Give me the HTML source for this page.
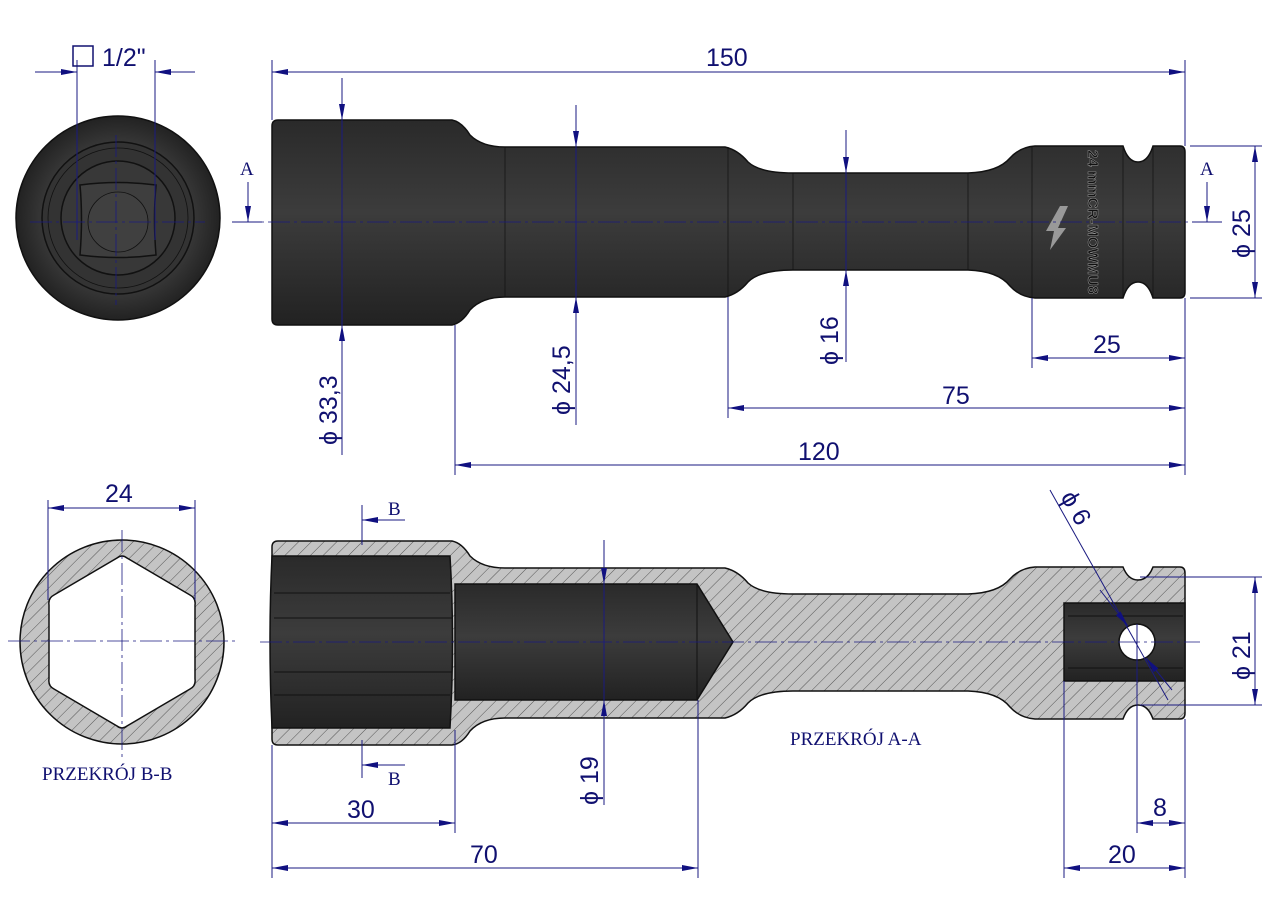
<!DOCTYPE html>
<html><head><meta charset="utf-8"><style>
html,body{margin:0;padding:0;background:#fff;}
svg{display:block;}
.d{stroke:#1a1a80;stroke-width:1;fill:none;}
.t{font-family:"Liberation Sans",sans-serif;font-size:25px;fill:#101070;}
.s{font-family:"Liberation Serif",serif;font-size:19px;fill:#101070;}
.c{stroke:#1a1a80;stroke-width:0.8;stroke-dasharray:22 4 3 4;fill:none;}
</style></head><body>
<svg width="1280" height="905" viewBox="0 0 1280 905" xmlns="http://www.w3.org/2000/svg">
<defs>
<pattern id="h" patternUnits="userSpaceOnUse" width="9" height="9" patternTransform="rotate(45)">
<rect width="9" height="9" fill="#c4c4c4"/><line x1="0" y1="0" x2="0" y2="9" stroke="#555" stroke-width="1"/>
</pattern>
<linearGradient id="g" x1="0" y1="0" x2="0" y2="1">
<stop offset="0" stop-color="#2a2a2a"/><stop offset="0.45" stop-color="#3c3c3c"/><stop offset="1" stop-color="#222"/>
</linearGradient>
<radialGradient id="rg"><stop offset="0.7" stop-color="#3a3a3a"/><stop offset="1" stop-color="#222"/></radialGradient>
<marker id="a" markerWidth="16" markerHeight="8" refX="16" refY="4" orient="auto" markerUnits="userSpaceOnUse"><path d="M0,1 L16,4 L0,7 z" fill="#101080"/></marker>
</defs>

<!-- End view top-left -->
<circle cx="118" cy="218" r="102" fill="url(#rg)" stroke="#111" stroke-width="1.5"/>
<circle cx="118" cy="218" r="76" fill="#333" stroke="#111" stroke-width="1.5"/>
<circle cx="118" cy="218" r="70" fill="none" stroke="#111" stroke-width="0.8"/>
<circle cx="118" cy="218" r="57" fill="#383838" stroke="#111" stroke-width="1.5"/>
<path d="M80,185 Q118,180 156,185 Q153,218 156,255 Q118,260 80,255 Q83,218 80,185 z" fill="#3e3e3e" stroke="#111" stroke-width="1.5"/>
<circle cx="118" cy="222" r="30" fill="#404040" stroke="#111" stroke-width="0.8"/>
<line class="c" x1="30" y1="222" x2="205" y2="222"/>
<line class="c" x1="116" y1="135" x2="116" y2="305"/>
<line class="d" x1="77" y1="60" x2="77" y2="240"/><line class="d" x1="155" y1="60" x2="155" y2="240"/>
<line class="d" x1="35" y1="72" x2="77" y2="72" marker-end="url(#a)"/><line class="d" x1="195" y1="72" x2="155" y2="72" marker-end="url(#a)"/>
<rect x="73" y="46" width="20" height="20" fill="none" stroke="#101070" stroke-width="1.5"/>
<text class="t" x="102" y="66">1/2"</text>
<text class="s" x="240" y="175">A</text>
<line class="d" x1="232" y1="222" x2="262" y2="222" stroke-width="1.5"/>
<line class="d" x1="248" y1="182" x2="248" y2="222" marker-end="url(#a)"/>

<!-- Side view -->
<path d="M278,120 L452,120 Q462,122 470,135 Q482,147 505,147 L725,147 Q738,150 748,162 Q760,173 793,173 L968,173 Q998,172 1010,158 Q1020,147 1035,146 L1123,146 Q1128,162 1138,162 Q1148,162 1153,146 L1180,146 Q1185,146 1185,152 L1185,292 Q1185,298 1180,298 L1153,298 Q1148,282 1138,282 Q1128,282 1123,298 L1035,298 Q1020,297 1010,286 Q998,271 968,270 L793,270 Q760,270 748,282 Q738,294 725,297 L505,297 Q482,297 470,310 Q462,323 452,325 L278,325 Q272,325 272,319 L272,126 Q272,120 278,120 z" fill="url(#g)" stroke="#111" stroke-width="1.5"/>
<g stroke="#111" stroke-width="0.7" fill="none">
<line x1="505" y1="147" x2="505" y2="297"/><line x1="728" y1="147" x2="728" y2="297"/>
<line x1="793" y1="173" x2="793" y2="270"/><line x1="968" y1="173" x2="968" y2="270"/>
<line x1="1032" y1="146" x2="1032" y2="298"/><line x1="1123" y1="146" x2="1123" y2="298"/><line x1="1153" y1="146" x2="1153" y2="298"/>
</g>
<text x="1088" y="150" transform="rotate(90 1088 150)" font-family="Liberation Sans,sans-serif" font-weight="bold" font-size="15" fill="#111" stroke="#999" stroke-width="0.5">24 mmCR-MOWMU8</text>
<path d="M1050,250 L1066,228 L1058,228 L1068,206 L1060,206 L1046,231 L1054,231 z" fill="#999"/>
<line class="c" x1="235" y1="222" x2="1200" y2="222"/>

<!-- top dims -->
<line class="d" x1="272" y1="60" x2="272" y2="120"/><line class="d" x1="1185" y1="60" x2="1185" y2="146"/>
<line class="d" x1="330" y1="72" x2="272" y2="72" marker-end="url(#a)"/><line class="d" x1="1130" y1="72" x2="1185" y2="72" marker-end="url(#a)"/>
<line class="d" x1="330" y1="72" x2="1130" y2="72"/>
<text class="t" x="706" y="66">150</text>
<text class="s" x="1200" y="175">A</text>
<line class="d" x1="1192" y1="222" x2="1222" y2="222" stroke-width="1.5"/>
<line class="d" x1="1207" y1="182" x2="1207" y2="222" marker-end="url(#a)"/>

<line class="d" x1="342" y1="78" x2="342" y2="120" marker-end="url(#a)"/>
<line class="d" x1="342" y1="120" x2="342" y2="325"/>
<line class="d" x1="342" y1="455" x2="342" y2="325" marker-end="url(#a)"/>
<text class="t" transform="translate(337,445) rotate(-90)">ϕ 33,3</text>

<line class="d" x1="576" y1="105" x2="576" y2="147" marker-end="url(#a)"/>
<line class="d" x1="576" y1="147" x2="576" y2="297"/>
<line class="d" x1="576" y1="425" x2="576" y2="297" marker-end="url(#a)"/>
<text class="t" transform="translate(570,415) rotate(-90)">ϕ 24,5</text>

<line class="d" x1="846" y1="130" x2="846" y2="173" marker-end="url(#a)"/>
<line class="d" x1="846" y1="173" x2="846" y2="270"/>
<line class="d" x1="846" y1="362" x2="846" y2="270" marker-end="url(#a)"/>
<text class="t" transform="translate(838,365) rotate(-90)">ϕ 16</text>

<line class="d" x1="1190" y1="146" x2="1262" y2="146"/><line class="d" x1="1190" y1="298" x2="1262" y2="298"/>
<line class="d" x1="1255" y1="200" x2="1255" y2="146" marker-end="url(#a)"/>
<line class="d" x1="1255" y1="240" x2="1255" y2="298" marker-end="url(#a)"/>
<line class="d" x1="1255" y1="200" x2="1255" y2="240"/>
<text class="t" transform="translate(1250,258) rotate(-90)">ϕ 25</text>

<line class="d" x1="1032" y1="298" x2="1032" y2="368"/><line class="d" x1="1185" y1="298" x2="1185" y2="475"/>
<line class="d" x1="1100" y1="358" x2="1032" y2="358" marker-end="url(#a)"/><line class="d" x1="1100" y1="358" x2="1185" y2="358" marker-end="url(#a)"/>
<text class="t" x="1093" y="353">25</text>
<line class="d" x1="728" y1="297" x2="728" y2="418"/>
<line class="d" x1="950" y1="408" x2="728" y2="408" marker-end="url(#a)"/><line class="d" x1="950" y1="408" x2="1185" y2="408" marker-end="url(#a)"/>
<text class="t" x="942" y="404">75</text>
<line class="d" x1="455" y1="325" x2="455" y2="475"/>
<line class="d" x1="820" y1="465" x2="455" y2="465" marker-end="url(#a)"/><line class="d" x1="820" y1="465" x2="1185" y2="465" marker-end="url(#a)"/>
<text class="t" x="798" y="460">120</text>

<!-- Section B-B -->
<circle cx="122" cy="642" r="102" fill="url(#h)" stroke="#111" stroke-width="1.5"/>
<path d="M117,558 Q122,554 127,558 L190,595 Q196,598 195,605 L195,679 Q196,686 190,689 L127,726 Q122,730 117,726 L54,689 Q48,686 49,679 L49,605 Q48,598 54,595 z" fill="#fff" stroke="#111" stroke-width="1.5"/>
<line class="c" x1="8" y1="641" x2="235" y2="641"/><line class="c" x1="122" y1="530" x2="122" y2="760"/>
<line class="d" x1="48" y1="500" x2="48" y2="600"/><line class="d" x1="195" y1="500" x2="195" y2="600"/>
<line class="d" x1="122" y1="508" x2="48" y2="508" marker-end="url(#a)"/><line class="d" x1="122" y1="508" x2="195" y2="508" marker-end="url(#a)"/>
<text class="t" x="105" y="502">24</text>
<text class="s" x="42" y="780">PRZEKRÓJ B-B</text>

<!-- Section A-A -->
<path d="M278,541 L452,541 Q462,543 470,556 Q482,568 505,568 L725,568 Q738,571 748,583 Q760,594 793,594 L968,594 Q998,593 1010,579 Q1020,568 1035,567 L1123,567 Q1128,580 1138,580 Q1148,580 1153,567 L1180,567 Q1185,567 1185,573 L1185,713 Q1185,719 1180,719 L1153,719 Q1148,705 1138,705 Q1128,705 1123,719 L1035,719 Q1020,718 1010,707 Q998,692 968,691 L793,691 Q760,691 748,703 Q738,715 725,718 L505,718 Q482,718 470,731 Q462,744 452,745 L278,745 Q272,745 272,739 L272,547 Q272,541 278,541 z" fill="url(#h)" stroke="#111" stroke-width="1.5"/>
<path d="M272,556 L450,556 Q455,640 450,728 L272,728 Q268,640 272,556 z" fill="url(#g)" stroke="#111" stroke-width="1.5"/>
<g stroke="#111" stroke-width="1" fill="none"><line x1="274" y1="593" x2="450" y2="593"/><line x1="274" y1="618" x2="452" y2="618"/><line x1="274" y1="672" x2="452" y2="672"/><line x1="274" y1="695" x2="450" y2="695"/></g>
<path d="M455,584 L697,584 L733,642 L697,700 L455,700 z" fill="url(#g)" stroke="#111" stroke-width="1.5"/>
<line x1="697" y1="584" x2="697" y2="700" stroke="#111"/>
<rect x="1064" y="603" width="121" height="78" fill="url(#g)" stroke="#111" stroke-width="1.5"/>
<line x1="1068" y1="616" x2="1183" y2="616" stroke="#111"/><line x1="1068" y1="668" x2="1183" y2="668" stroke="#111"/>
<circle cx="1137" cy="642" r="18" fill="#fff" stroke="#111" stroke-width="1.5"/>
<line class="c" x1="260" y1="642" x2="1200" y2="642"/>
<text class="s" x="790" y="745">PRZEKRÓJ A-A</text>

<line class="d" x1="362" y1="505" x2="362" y2="545" stroke-width="1.8"/>
<line class="d" x1="405" y1="520" x2="362" y2="520" marker-end="url(#a)"/>
<text class="s" x="388" y="515">B</text>
<line class="d" x1="362" y1="740" x2="362" y2="778" stroke-width="1.8"/>
<line class="d" x1="405" y1="765" x2="362" y2="765" marker-end="url(#a)"/>
<text class="s" x="388" y="785">B</text>

<line class="d" x1="604" y1="540" x2="604" y2="584" marker-end="url(#a)"/>
<line class="d" x1="604" y1="584" x2="604" y2="700"/>
<line class="d" x1="604" y1="805" x2="604" y2="700" marker-end="url(#a)"/>
<text class="t" transform="translate(598,805) rotate(-90)">ϕ 19</text>

<line class="d" x1="1050" y1="490" x2="1168" y2="700"/>
<line class="d" x1="1100" y1="590" x2="1128" y2="626" marker-end="url(#a)"/>
<line class="d" x1="1172" y1="690" x2="1146" y2="658" marker-end="url(#a)"/>
<text class="t" transform="translate(1060,497) rotate(60)">ϕ 6</text>

<line class="d" x1="1140" y1="577" x2="1262" y2="577"/><line class="d" x1="1140" y1="705" x2="1262" y2="705"/>
<line class="d" x1="1255" y1="620" x2="1255" y2="577" marker-end="url(#a)"/>
<line class="d" x1="1255" y1="660" x2="1255" y2="705" marker-end="url(#a)"/>
<line class="d" x1="1255" y1="620" x2="1255" y2="660"/>
<text class="t" transform="translate(1250,680) rotate(-90)">ϕ 21</text>

<line class="d" x1="272" y1="745" x2="272" y2="878"/><line class="d" x1="455" y1="730" x2="455" y2="833"/>
<line class="d" x1="360" y1="823" x2="272" y2="823" marker-end="url(#a)"/><line class="d" x1="360" y1="823" x2="455" y2="823" marker-end="url(#a)"/>
<text class="t" x="347" y="818">30</text>
<line class="d" x1="698" y1="700" x2="698" y2="878"/>
<line class="d" x1="480" y1="868" x2="272" y2="868" marker-end="url(#a)"/><line class="d" x1="480" y1="868" x2="698" y2="868" marker-end="url(#a)"/>
<text class="t" x="470" y="863">70</text>
<line class="d" x1="1064" y1="681" x2="1064" y2="878"/><line class="d" x1="1137" y1="624" x2="1137" y2="833"/><line class="d" x1="1185" y1="719" x2="1185" y2="878"/>
<line class="d" x1="1120" y1="868" x2="1064" y2="868" marker-end="url(#a)"/><line class="d" x1="1120" y1="868" x2="1185" y2="868" marker-end="url(#a)"/>
<text class="t" x="1108" y="863">20</text>
<line class="d" x1="1137" y1="823" x2="1185" y2="823" marker-end="url(#a)"/>
<line class="d" x1="1185" y1="823" x2="1137" y2="823" marker-end="url(#a)"/>
<text class="t" x="1153" y="816">8</text>
</svg>
</body></html>
